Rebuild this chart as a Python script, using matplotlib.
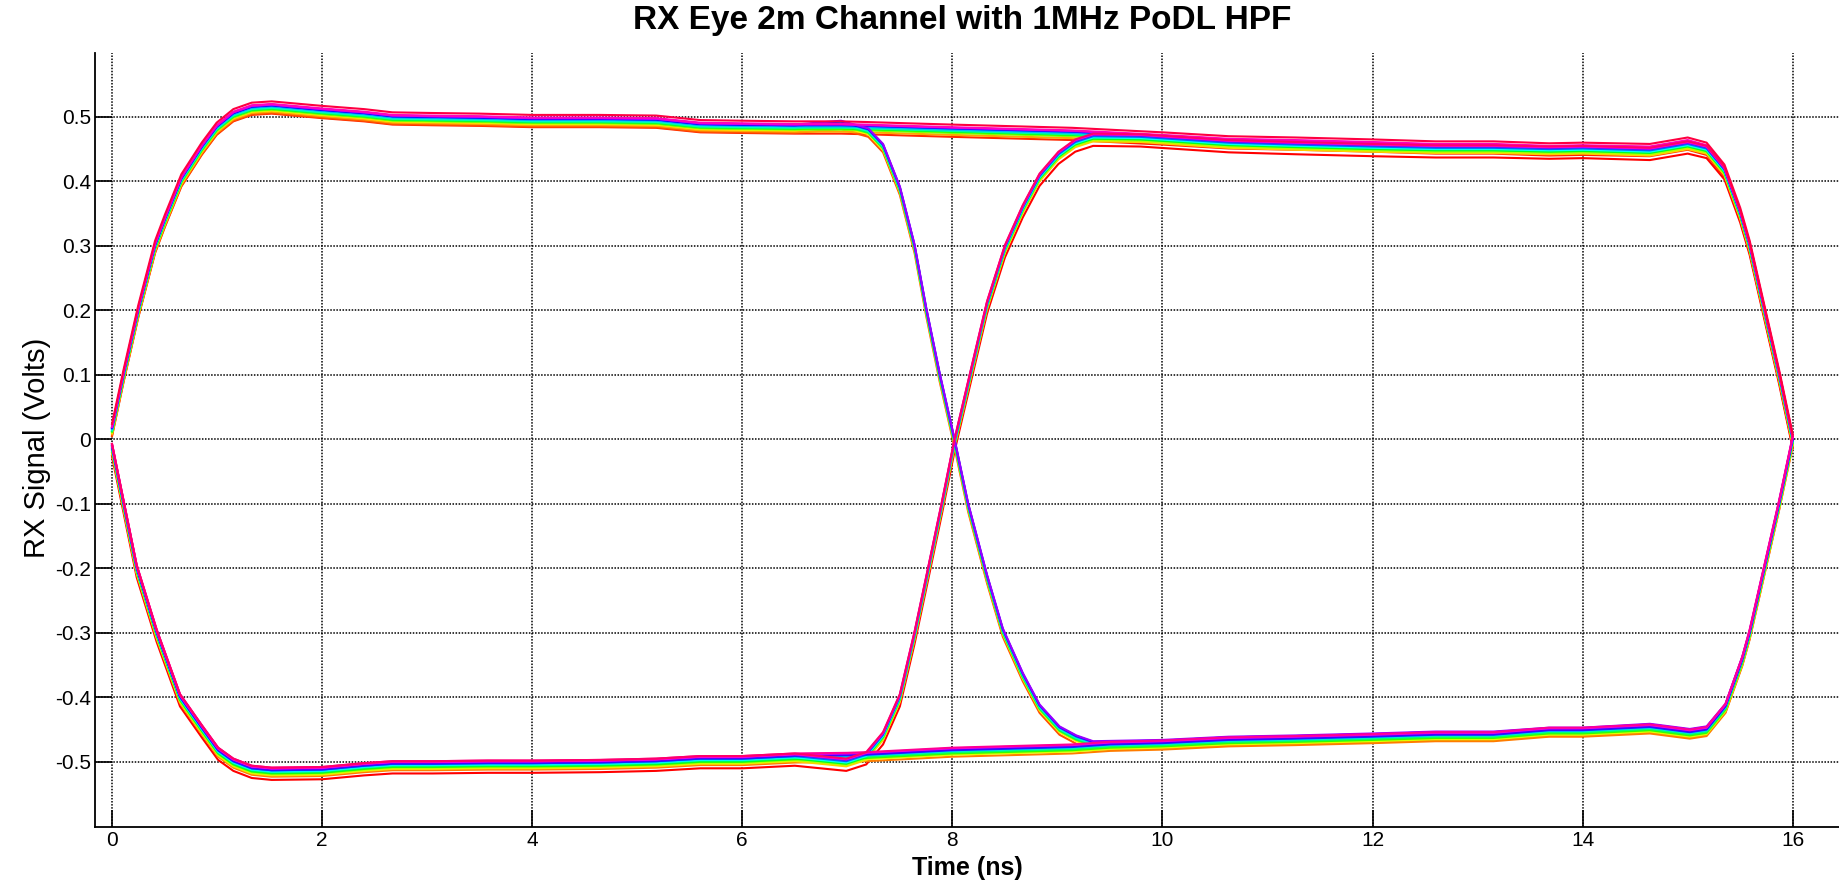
import numpy as np
import matplotlib
matplotlib.use('Agg')
import matplotlib.pyplot as plt

plt.rcParams['font.family'] = ['Liberation Sans', 'DejaVu Sans']
plt.rcParams['axes.unicode_minus'] = False

# ---- data (time in ns, volts) ----
# edge at t = 0
t_rise = [0.0, 0.11, 0.25, 0.41, 0.505, 0.66, 0.854, 0.996, 1.155, 1.33, 1.52]
v_rise = [0.016, 0.10, 0.20, 0.30, 0.341, 0.403, 0.452, 0.483, 0.504, 0.514, 0.516]
t_fall = [0.0, 0.11, 0.235, 0.425, 0.647, 0.854, 1.01, 1.155, 1.33, 1.52]
v_fall = [-0.012, -0.10, -0.20, -0.30, -0.40, -0.448, -0.483, -0.500, -0.511, -0.514]

# first bit, flat part
t_hi1 = [2.0, 2.4, 2.67, 3.04, 3.5, 4.0, 4.64, 5.18, 5.6, 6.0, 6.5]
v_hi1 = [0.509, 0.504, 0.499, 0.498, 0.497, 0.495, 0.495, 0.494, 0.487, 0.486, 0.485]
t_lo1 = [2.0, 2.4, 2.67, 3.05, 3.58, 4.0, 4.65, 5.18, 5.6, 6.0, 6.5]
v_lo1 = [-0.513, -0.507, -0.504, -0.504, -0.503, -0.503, -0.502, -0.500, -0.496, -0.496, -0.492]

# middle crossing, one piece per bit pair
t_hh_mid = [6.94, 7.18, 7.58, 8.0, 9.14]
v_hh_mid = [0.485, 0.484, 0.482, 0.480, 0.475]
t_hl_mid = [6.94, 7.2, 7.34, 7.5, 7.64, 7.75, 7.88, 8.02, 8.15, 8.33, 8.48, 8.67, 8.83, 9.02, 9.18, 9.34]
v_hl_mid = [0.491, 0.479, 0.455, 0.389, 0.299, 0.202, 0.099, -0.002, -0.102, -0.213, -0.296, -0.365,
            -0.414, -0.448, -0.462, -0.471]
t_lh_mid = [6.99, 7.18, 7.34, 7.5, 7.64, 7.77, 7.9, 8.02, 8.17, 8.33, 8.5, 8.67, 8.83, 9.01, 9.17, 9.34, 9.79]
v_lh_mid = [-0.500, -0.490, -0.459, -0.400, -0.303, -0.203, -0.102, -0.005, 0.099, 0.209, 0.296, 0.358,
            0.407, 0.441, 0.460, 0.469, 0.468]
t_ll_mid = [7.0, 7.18, 8.0, 9.14, 9.5]
v_ll_mid = [-0.491, -0.490, -0.483, -0.478, -0.474]

# second bit, flat part and edge at t = 16
t_hi2 = [10.0, 10.63, 11.27, 12.0, 12.6, 13.15, 13.68, 14.0, 14.64, 15.0, 15.18, 15.35, 15.5, 15.59, 15.73, 15.87, 16.0]
v_hh2 = [0.468, 0.462, 0.460, 0.457, 0.454, 0.454, 0.451, 0.452, 0.450, 0.460, 0.452, 0.418, 0.351, 0.300, 0.200, 0.100, 0.0]
v_lh2 = [0.465, 0.459, 0.456, 0.453, 0.451, 0.451, 0.449, 0.450, 0.447, 0.457, 0.450, 0.417, 0.350, 0.300, 0.200, 0.100, 0.0]
t_lo2 = [10.0, 10.63, 11.27, 12.0, 12.6, 13.15, 13.68, 14.0, 14.64, 15.02, 15.18, 15.36, 15.52, 15.59, 15.73, 15.87, 16.0]
v_hl2 = [-0.469, -0.464, -0.462, -0.459, -0.456, -0.456, -0.450, -0.450, -0.444, -0.452, -0.448, -0.413, -0.340, -0.300, -0.200, -0.100, 0.0]
v_ll2 = [-0.472, -0.467, -0.465, -0.462, -0.459, -0.459, -0.452, -0.452, -0.447, -0.455, -0.451, -0.415, -0.342, -0.300, -0.200, -0.100, 0.0]

# which bit pair each captured trace is, in plotting order, and its baseline shift (V)
trace_pattern = ['lh', 'hh', 'hl', 'll', 'hh', 'lh', 'hl', 'll', 'lh', 'hh', 'hl', 'll',
                 'hh', 'lh', 'hl', 'll', 'hh', 'hl', 'lh', 'll', 'hh', 'hl', 'lh', 'll',
                 'hh', 'hl', 'll', 'lh', 'hl', 'hh', 'll', 'lh', 'hh', 'll', 'lh', 'hh']
trace_offset = [-0.014, -0.011, -0.010, -0.009, -0.008, -0.007, -0.006, -0.006, -0.005, -0.005,
                -0.004, -0.004, -0.003, -0.003, -0.003, -0.002, -0.002, -0.001, -0.001, 0.000,
                0.000, 0.001, 0.001, 0.001, 0.002, 0.002, 0.002, 0.003, 0.003, 0.003,
                0.004, 0.004, 0.004, 0.005, 0.005, 0.008]

xticks = [0, 2, 4, 6, 8, 10, 12, 14, 16]
yticks = [-0.5, -0.4, -0.3, -0.2, -0.1, 0, 0.1, 0.2, 0.3, 0.4, 0.5]
ytick_labels = ['-0.5', '-0.4', '-0.3', '-0.2', '-0.1', '0', '0.1', '0.2', '0.3', '0.4', '0.5']

shapes = {
    'hh': (t_rise + t_hi1 + t_hh_mid + t_hi2, v_rise + v_hi1 + v_hh_mid + v_hh2),
    'hl': (t_rise + t_hi1 + t_hl_mid + t_lo2, v_rise + v_hi1 + v_hl_mid + v_hl2),
    'lh': (t_fall + t_lo1 + t_lh_mid + t_hi2[1:], v_fall + v_lo1 + v_lh_mid + v_lh2[1:]),
    'll': (t_fall + t_lo1 + t_ll_mid + t_lo2, v_fall + v_lo1 + v_ll_mid + v_ll2),
}

#%% plot
fig = plt.figure(figsize=(18.4, 8.85), dpi=100)
ax = fig.add_axes([95/1840, 1 - 827/885, 1 - 95/1840, (827 - 53)/885])

cmap = plt.get_cmap('hsv')
n = len(trace_pattern)
for k, code in enumerate(trace_pattern):
    t, v = shapes[code]
    ax.plot(t, np.array(v) + trace_offset[k], color=cmap(k / n), lw=1.5)

ax.set_xlim(-0.162, 16.45)
ax.set_ylim(-0.601, 0.599)
ax.set_xticks(xticks)
ax.set_yticks(yticks)
ax.set_yticklabels(ytick_labels)
ax.tick_params(direction='in', length=12, width=1.2, labelsize=15, pad=3, colors='k')

ax.grid(True, color='k', linestyle=(0, (1, 1)), linewidth=1.1)
ax.set_axisbelow(True)
for s in ['top', 'right']:
    ax.spines[s].set_visible(False)
for s in ['left', 'bottom']:
    ax.spines[s].set_linewidth(1.3)

ax.set_xlabel('Time (ns)', fontsize=18, fontweight='bold')
ax.xaxis.set_label_coords(0.5, -0.037)
ax.set_ylabel('RX Signal (Volts)', fontsize=21)
ax.yaxis.set_label_coords(-0.025, 0.49)

fig.text(962/1840, 1 - 21/885, 'RX Eye 2m Channel with 1MHz PoDL HPF',
         fontsize=24, fontweight='bold', ha='center', va='center')

fig.savefig('out.png', dpi=100)
